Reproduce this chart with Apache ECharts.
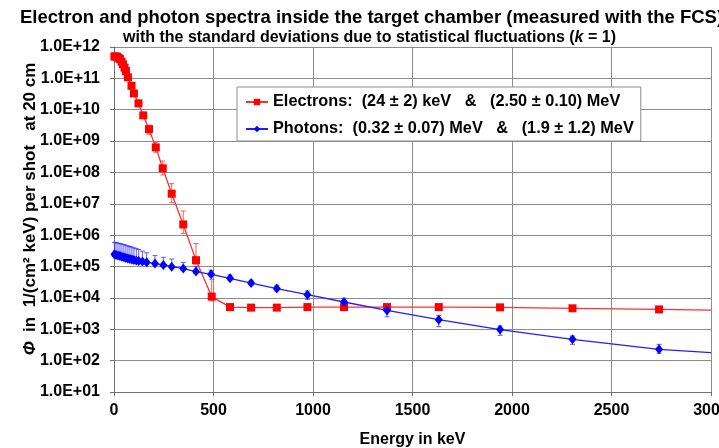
<!DOCTYPE html>
<html>
<head>
<meta charset="utf-8">
<script src="https://cdn.jsdelivr.net/npm/echarts@6/dist/echarts.min.js"></script>
<style>
html,body{margin:0;padding:0;background:#fff;}
#chart{width:719px;height:448px;}
</style>
</head>
<body>
<div id="chart"></div>
<script>
// ---------- data ----------
const xTicks = [0, 500, 1000, 1500, 2000, 2500, 3000];

const electronEnergy = [2, 8, 15, 23, 30, 38, 45, 53, 60, 70, 88, 100, 123, 147, 176, 210, 245, 290, 348, 412, 491, 583, 689, 818, 972, 1156, 1372, 1632, 1940, 2304, 2739];
const electronFlux   = [5.0e11, 5.0e11, 4.9e11, 4.5e11, 4.1e11, 3.4e11, 2.8e11, 2.2e11, 1.7e11, 1.08e11, 5.8e10, 3.3e10, 1.6e10, 6.6e9, 2.4e9, 6.3e8, 1.36e8, 2.1e7, 2.2e6, 1.6e5, 1.1e4, 5.1e3, 4.9e3, 4.9e3, 5.1e3, 5.1e3, 5.1e3, 5.1e3, 5.0e3, 4.66e3, 4.3e3];
const electronLow    = [null, null, null, null, null, null, null, null, null, null, null, null, null, 5.3e9, 1.64e9, 4.4e8, 8.3e7, 1.09e7, 1.12e6, 1.18e5, 8.0e3, null, null, null, null, null, null, null, null, null, null];
const electronHigh   = [null, null, null, null, null, null, null, null, null, null, null, null, null, 8.3e9, 3.2e9, 9.1e8, 2.32e8, 4.4e7, 5.9e6, 5.4e5, 3.9e4, null, null, null, null, null, null, null, null, null, null];

const photonEnergy = [2, 10, 20, 30, 40, 50, 60, 70, 80, 90, 100, 112, 124, 143, 164, 206, 248, 290, 348, 412, 488, 583, 689, 818, 972, 1156, 1372, 1632, 1940, 2304, 2739];
const photonFlux   = [2.45e5, 2.35e5, 2.25e5, 2.15e5, 2.06e5, 1.97e5, 1.88e5, 1.82e5, 1.75e5, 1.69e5, 1.63e5, 1.57e5, 1.51e5, 1.44e5, 1.36e5, 1.25e5, 1.12e5, 9.9e4, 8.6e4, 6.9e4, 5.65e4, 4.2e4, 2.98e4, 1.98e4, 1.27e4, 7.4e3, 4.0e3, 2.03e3, 975, 478, 229];
const photonLow    = [2.1e5, 2.03e5, 1.94e5, 1.86e5, 1.78e5, 1.70e5, 1.62e5, 1.57e5, 1.51e5, 1.46e5, 1.41e5, 1.35e5, 1.30e5, 1.24e5, 1.17e5, 1.08e5, 9.7e4, 8.6e4, 7.5e4, 6.0e4, 4.9e4, 3.6e4, 2.55e4, 1.68e4, 9.0e3, 5.4e3, 2.5e3, 1.21e3, 641, 331, 171];
const photonHigh   = [5.9e5, 5.8e5, 5.6e5, 5.4e5, 5.2e5, 5.0e5, 4.75e5, 4.55e5, 4.35e5, 4.16e5, 3.95e5, 3.73e5, 3.49e5, 3.1e5, 2.74e5, 2.23e5, 1.97e5, 1.74e5, 1.36e5, 1.02e5, 7.6e4, 5.4e4, 3.64e4, 2.52e4, 1.66e4, 9.7e3, 5.8e3, 2.78e3, 1.27e3, 608, 331];

// fitted curves continue to the right edge of the plot
const tailEnergy = [3000];
const electronTail = [4.1e3];
const photonTail = [180];

const electronName = 'Electrons:  (24 ± 2) keV   &   (2.50 ± 0.10) MeV';
const photonName = 'Photons:  (0.32 ± 0.07) MeV   &   (1.9 ± 1.2) MeV';

// ---------- chart ----------
const FONT = '"Liberation Sans", Arial, sans-serif';
const RED = '#ff0000', BLUE = '#0000ff';

function lineData(xs, ys, tx, ty) {
  const d = xs.map((x, i) => [x, ys[i]]);
  tx.forEach((x, i) => d.push({ value: [x, ty[i]], symbol: 'none' }));
  return d;
}
function errData(xs, lo, hi) {
  const d = [];
  xs.forEach((x, i) => { if (lo[i] != null && hi[i] != null) d.push([x, lo[i], hi[i]]); });
  return d;
}
function errSeries(data, color) {
  return {
    type: 'custom', z: 1, silent: true,
    encode: { x: 0, y: [1, 2] },
    data: data,
    renderItem: function (params, api) {
      const x = api.value(0);
      const p1 = api.coord([x, api.value(1)]);
      const p2 = api.coord([x, api.value(2)]);
      const w = 2.5;
      const st = { stroke: color, lineWidth: 1 };
      return {
        type: 'group', children: [
          { type: 'line', shape: { x1: p1[0], y1: p1[1], x2: p2[0], y2: p2[1] }, style: st },
          { type: 'line', shape: { x1: p2[0] - w, y1: p2[1], x2: p2[0] + w, y2: p2[1] }, style: st },
          { type: 'line', shape: { x1: p1[0] - w, y1: p1[1], x2: p1[0] + w, y2: p1[1] }, style: st }
        ]
      };
    }
  };
}

const chart = echarts.init(document.getElementById('chart'), null, { renderer: 'canvas' });
chart.setOption({
  animation: false,
  backgroundColor: '#ffffff',
  textStyle: { fontFamily: FONT },
  grid: { left: 114, right: 8, top: 47, bottom: 56, containLabel: false, outerBoundsMode: 'none' },
  graphic: [
    { type: 'text', x: 20, y: 18, style: { text: 'Electron and photon spectra inside the target chamber (measured with the FCS)', font: 'bold 18.5px ' + FONT, fill: '#000', textAlign: 'left', textVerticalAlign: 'middle' } },
    { type: 'text', x: 123, y: 37.5, style: {
        text: '{b|with the standard deviations due to statistical fluctuations (}{i|k}{b| = 1)}',
        textAlign: 'left', textVerticalAlign: 'middle',
        rich: {
          b: { font: 'bold 16px ' + FONT, fill: '#000' },
          i: { font: 'italic bold 16px ' + FONT, fill: '#000' }
        } } },
    { type: 'text', x: 30, y: 209, rotation: Math.PI / 2, style: {
        text: '{i|Φ}{b|  in  1/(cm² keV) per shot   at 20 cm}',
        textAlign: 'center', textVerticalAlign: 'middle',
        rich: {
          b: { font: 'bold 17px ' + FONT, fill: '#000' },
          i: { font: 'italic bold 17px ' + FONT, fill: '#000' }
        } } }
  ],
  legend: {
    orient: 'vertical', left: 237, top: 87,
    data: [electronName, photonName],
    backgroundColor: '#ffffff', borderColor: '#8a8a8a', borderWidth: 1, borderRadius: 0,
    padding: [7, 7, 4, 8], itemGap: 11, itemWidth: 22, itemHeight: 8,
    textStyle: { fontFamily: FONT, fontWeight: 'bold', fontSize: 16.3, color: '#000' }
  },
  xAxis: {
    type: 'value', min: xTicks[0], max: xTicks[xTicks.length - 1], interval: 500,
    name: 'Energy in keV', nameLocation: 'middle', nameGap: 40,
    nameTextStyle: { fontFamily: FONT, fontWeight: 'bold', fontSize: 16, color: '#000' },
    axisLine: { show: true, onZero: false, lineStyle: { color: '#707070', width: 1 } },
    axisTick: { show: true, inside: false, length: 4, lineStyle: { color: '#707070' } },
    axisLabel: { margin: 11, fontFamily: FONT, fontWeight: 'bold', fontSize: 16, color: '#000',
      showMaxLabel: true, hideOverlap: false,
      formatter: function (v) { return String(v); } },
    splitLine: { show: true, lineStyle: { color: '#8c8c8c', width: 1 } }
  },
  yAxis: {
    type: 'log', logBase: 10, min: 10, max: 1e12, splitNumber: 11, interval: 1,
    axisLine: { show: true, lineStyle: { color: '#707070', width: 1 } },
    axisTick: { show: true, inside: false, length: 4, lineStyle: { color: '#707070' } },
    axisLabel: {
      margin: 14, fontFamily: FONT, fontWeight: 'bold', fontSize: 16, color: '#000',
      formatter: function (v) {
        const e = Math.round(Math.log10(v));
        return '1.0E+' + (e < 10 ? '0' : '') + e;
      }
    },
    splitLine: { show: true, lineStyle: { color: '#8c8c8c', width: 1 } },
    minorTick: { show: false }, minorSplitLine: { show: false }
  },
  series: [
    errSeries(errData(electronEnergy, electronLow, electronHigh), 'rgba(255,40,40,0.75)'),
    errSeries(errData(photonEnergy, photonLow, photonHigh), 'rgba(40,40,255,0.75)'),
    {
      name: electronName, type: 'line', z: 3,
      data: lineData(electronEnergy, electronFlux, tailEnergy, electronTail),
      symbol: 'rect', symbolSize: 8, showAllSymbol: true, smooth: false,
      lineStyle: { color: '#ff3030', width: 1.3 },
      itemStyle: { color: RED, borderWidth: 0 }
    },
    {
      name: photonName, type: 'line', z: 4,
      data: lineData(photonEnergy, photonFlux, tailEnergy, photonTail),
      symbol: 'diamond', symbolSize: [8, 10], showAllSymbol: true, smooth: false,
      lineStyle: { color: '#2020ff', width: 1.3 },
      itemStyle: { color: BLUE, borderWidth: 0 }
    }
  ]
});
</script>
</body>
</html>
